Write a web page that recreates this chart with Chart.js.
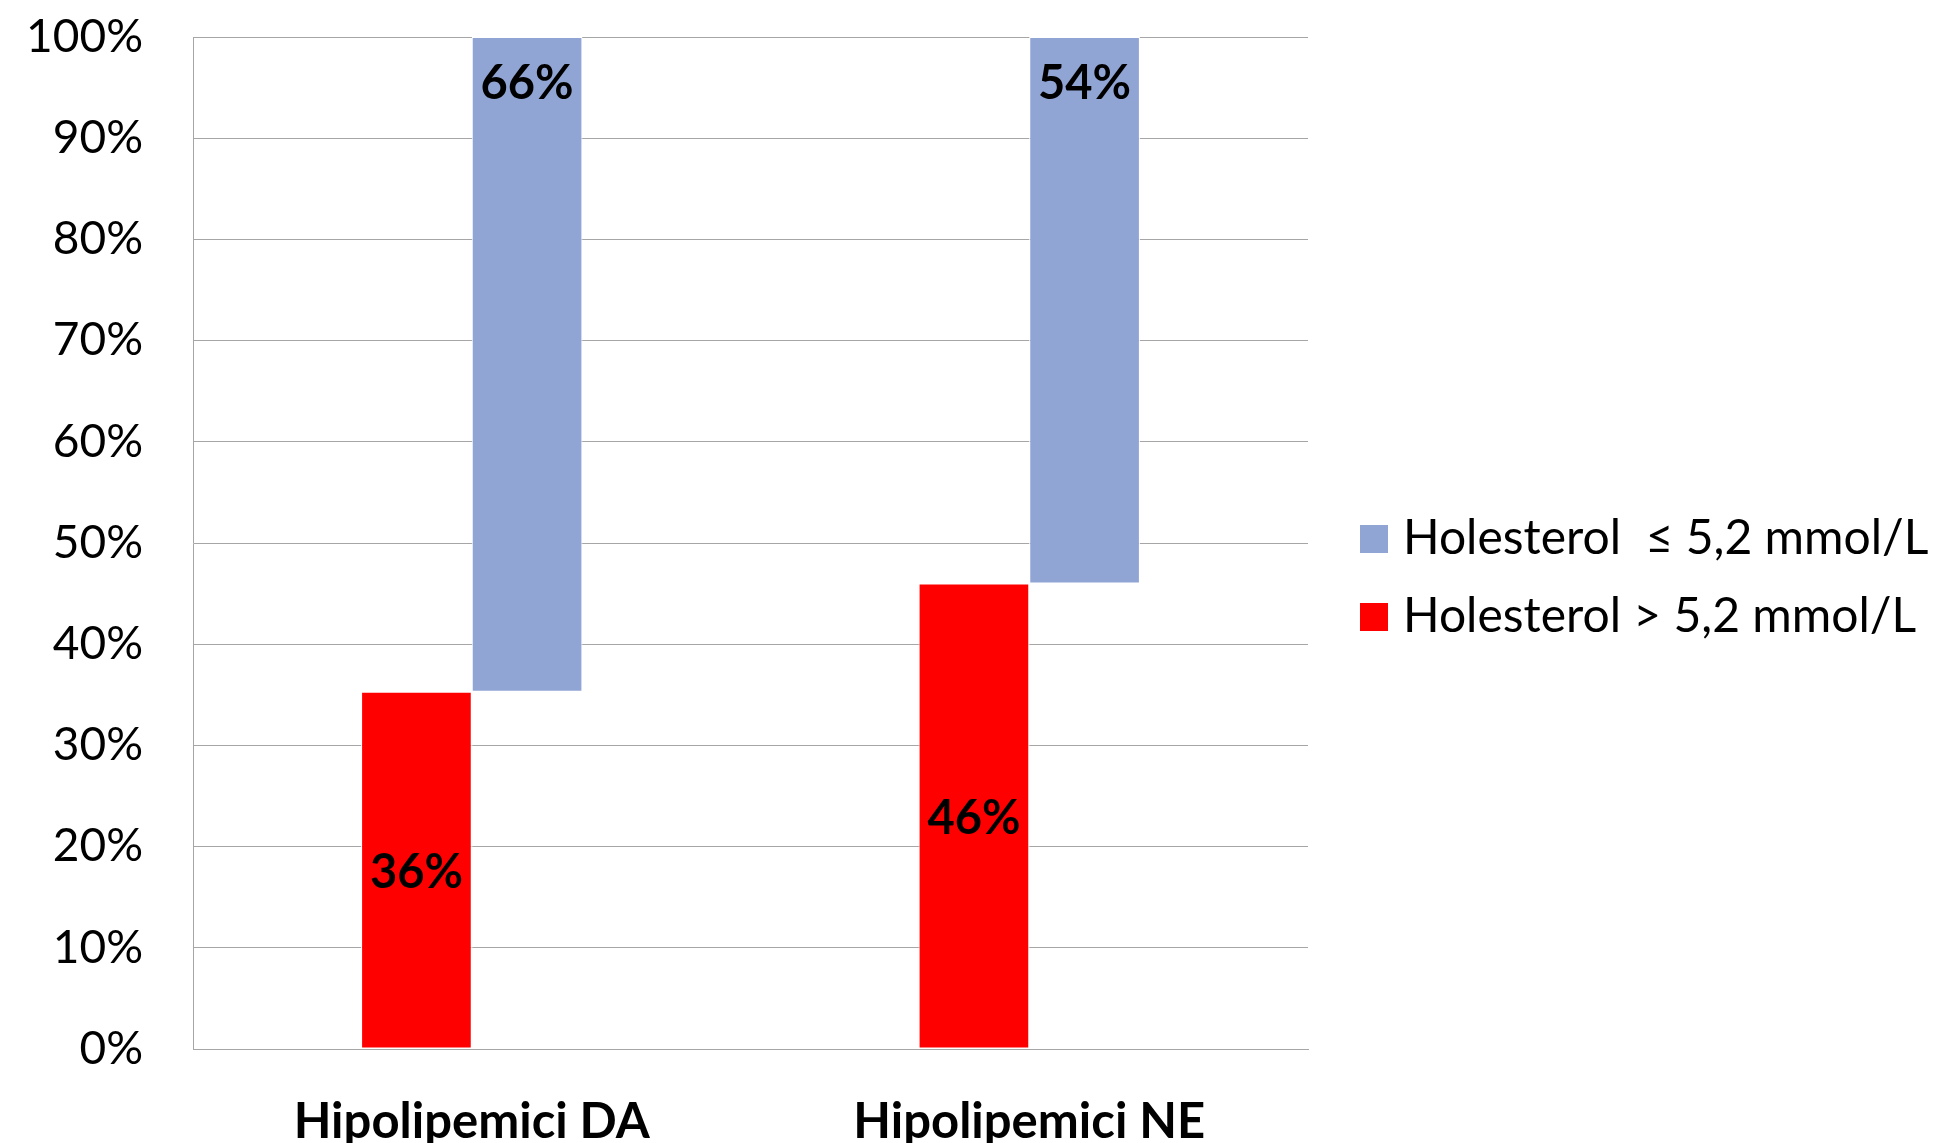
<!DOCTYPE html>
<html>
<head>
<meta charset="utf-8">
<script src="https://cdn.jsdelivr.net/npm/chart.js@4/dist/chart.umd.min.js"></script>
<style>
  html, body { margin: 0; padding: 0; background: #ffffff; }
  #wrap { width: 1944px; height: 1143px; }
</style>
</head>
<body>
<div id="wrap"><canvas id="c" width="1944" height="1143"></canvas></div>
<script>
// Categories and survey shares (percent of patients)
const categories = ['Hipolipemici DA', 'Hipolipemici NE'];
const seriesHigh = [36, 46];   // Holesterol > 5,2 mmol/L
const seriesLow = [66, 54];    // Holesterol ≤ 5,2 mmol/L
const seriesNames = ['Holesterol > 5,2 mmol/L', 'Holesterol  \u2264 5,2 mmol/L'];
const seriesColors = ['#FF0000', '#91A5D5'];

// 100% stacking: each category is normalised to its own total
const totals = categories.map((_, i) => seriesHigh[i] + seriesLow[i]);
const highShare = seriesHigh.map((v, i) => v / totals[i] * 100);
const highBars = highShare.map(s => [0, s]);
const lowBars = highShare.map(s => [s, 100]);

const FONT = 'Lato, "Open Sans", sans-serif';

// Value labels: red centred in its bar, blue near the top of its bar
const valueLabels = {
  id: 'valueLabels',
  afterDatasetsDraw(chart) {
    const ctx = chart.ctx;
    const raw = [seriesHigh, seriesLow];
    ctx.save();
    ctx.font = 'bold 47px ' + FONT;
    ctx.fillStyle = '#000000';
    ctx.textAlign = 'center';
    ctx.textBaseline = 'middle';
    chart.data.datasets.forEach((ds, di) => {
      const meta = chart.getDatasetMeta(di);
      meta.data.forEach((bar, i) => {
        const top = Math.min(bar.y, bar.base);
        const bottom = Math.max(bar.y, bar.base);
        const y = di === 0 ? (top + bottom) / 2 + 3 : top + 47;
        ctx.fillText(raw[di][i] + '%', bar.x, y);
      });
    });
    ctx.restore();
  }
};

// Legend on the right, blue series listed first
const sideLegend = {
  id: 'sideLegend',
  afterDraw(chart) {
    const ctx = chart.ctx;
    const area = chart.chartArea;
    const x0 = area.right + 52;
    const rows = [1, 0];
    ctx.save();
    ctx.font = '48px ' + FONT;
    ctx.textBaseline = 'middle';
    ctx.textAlign = 'left';
    rows.forEach((di, r) => {
      const cy = 539 + r * 78;
      ctx.fillStyle = seriesColors[di];
      ctx.fillRect(x0, cy - 14, 28, 28);
      ctx.fillStyle = '#000000';
      ctx.fillText(seriesNames[di], x0 + 43, cy);
    });
    ctx.restore();
  }
};

new Chart(document.getElementById('c'), {
  type: 'bar',
  data: {
    labels: categories,
    datasets: [
      { label: seriesNames[0], data: highBars, backgroundColor: seriesColors[0],
        borderColor: '#ffffff', borderWidth: 1, borderSkipped: false },
      { label: seriesNames[1], data: lowBars, backgroundColor: seriesColors[1],
        borderColor: '#ffffff', borderWidth: 1, borderSkipped: false }
    ]
  },
  options: {
    responsive: false,
    animation: false,
    devicePixelRatio: 1,
    layout: { padding: { left: 20, right: 636, top: 37, bottom: 0 } },
    datasets: { bar: { categoryPercentage: 0.397, barPercentage: 1.0 } },
    plugins: {
      legend: { display: false },
      tooltip: { enabled: false }
    },
    scales: {
      x: {
        grid: { display: false },
        border: { display: true, color: '#A6A6A6', width: 1 },
        ticks: { color: '#000000', font: { family: FONT, size: 49, weight: 'bold' }, padding: 36 },
        afterFit(scale) { scale.height = 94; scale.paddingLeft = 0; scale.paddingRight = 0; }
      },
      y: {
        min: 0, max: 100,
        grid: { color: '#A6A6A6', lineWidth: 1, drawTicks: false },
        border: { display: true, color: '#A6A6A6', width: 1 },
        ticks: {
          stepSize: 10, padding: 50, color: '#000000',
          font: { family: FONT, size: 46 },
          callback: v => v + '%'
        },
        afterFit(scale) { scale.width = 173; scale.paddingTop = 0; scale.paddingBottom = 0; }
      }
    }
  },
  plugins: [valueLabels, sideLegend]
});
</script>
</body>
</html>
